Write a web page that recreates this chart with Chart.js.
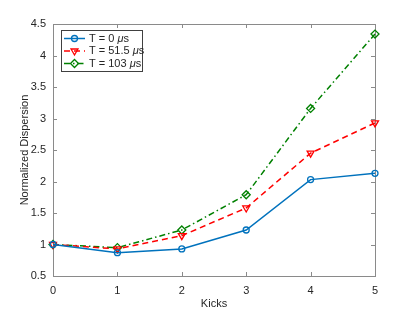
<!DOCTYPE html>
<html>
<head>
<meta charset="utf-8">
<script src="https://cdn.jsdelivr.net/npm/chart.js@4"></script>
<style>
  html, body { margin: 0; padding: 0; background: #fff; }
  #wrap { width: 415px; height: 312px; }
</style>
</head>
<body>
<div id="wrap"><canvas id="chart"></canvas></div>
<script>
const kicks = [0, 1, 2, 3, 4, 5];
const disp0 = [1.0, 0.87, 0.93, 1.23, 2.03, 2.13];
const disp51 = [1.0, 0.93, 1.14, 1.58, 2.45, 2.93];
const disp103 = [1.0, 0.95, 1.23, 1.79, 3.16, 4.34];
const seriesNames = ['T = 0 ', 'T = 51.5 ', 'T = 103 '];
const xTicks = [0, 1, 2, 3, 4, 5];
const yTicks = [0.5, 1, 1.5, 2, 2.5, 3, 3.5, 4, 4.5];

const textColor = '#262626';
const axisColor = '#8a8a8a';
const font = "'Liberation Sans', Arial, sans-serif";

Chart.defaults.font.family = font;
Chart.defaults.font.size = 11;
Chart.defaults.color = textColor;

// MATLAB-like box with inward ticks on all four sides
const boxPlugin = {
    id: 'boxPlugin',
    beforeDatasetsDraw(chart) {
        const { ctx, chartArea: a, scales } = chart;
        ctx.save();
        ctx.strokeStyle = axisColor;
        ctx.lineWidth = 1;
        ctx.strokeRect(a.left + 0.5, a.top + 0.5, a.right - a.left, a.bottom - a.top);
        ctx.beginPath();
        xTicks.forEach(v => {
            const x = Math.round(scales.x.getPixelForValue(v)) + 0.5;
            ctx.moveTo(x, a.bottom); ctx.lineTo(x, a.bottom - 4);
            ctx.moveTo(x, a.top); ctx.lineTo(x, a.top + 4);
        });
        yTicks.forEach(v => {
            const y = Math.round(scales.y.getPixelForValue(v)) + 0.5;
            ctx.moveTo(a.left, y); ctx.lineTo(a.left + 4, y);
            ctx.moveTo(a.right, y); ctx.lineTo(a.right - 4, y);
        });
        ctx.stroke();
        ctx.restore();
    }
};

// legend box in the upper left, with italic mu
const legendPlugin = {
    id: 'legendPlugin',
    afterDraw(chart) {
        const { ctx } = chart;
        const x0 = 61, y0 = 30, w = 81, h = 41;
        ctx.save();
        ctx.fillStyle = '#fff';
        ctx.fillRect(x0, y0, w, h);
        ctx.strokeStyle = '#404040';
        ctx.lineWidth = 1;
        ctx.strokeRect(x0 + 0.5, y0 + 0.5, w, h);
        chart.data.datasets.forEach((ds, i) => {
            const y = y0 + 8.5 + i * 12.5;
            ctx.strokeStyle = ds.borderColor;
            ctx.lineWidth = ds.borderWidth;
            ctx.setLineDash(ds.borderDash || []);
            ctx.beginPath();
            ctx.moveTo(x0 + 3, y); ctx.lineTo(x0 + 24, y);
            ctx.stroke();
            ctx.setLineDash([]);
            ctx.fillStyle = 'rgba(0,0,0,0)';
            ctx.lineWidth = ds.pointBorderWidth;
            Chart.helpers.drawPoint(ctx, {
                pointStyle: ds.pointStyle, radius: ds.pointRadius,
                rotation: ds.pointRotation || 0, borderWidth: ds.pointBorderWidth
            }, x0 + 13.5, y);
            ctx.fillStyle = textColor;
            ctx.textBaseline = 'middle';
            ctx.font = '11px ' + font;
            let tx = x0 + 28;
            ctx.fillText(seriesNames[i], tx, y);
            tx += ctx.measureText(seriesNames[i]).width;
            ctx.font = 'italic 11px ' + font;
            ctx.fillText('\u03bc', tx, y);
            tx += ctx.measureText('\u03bc').width;
            ctx.font = '11px ' + font;
            ctx.fillText('s', tx, y);
        });
        ctx.restore();
    }
};

function makeSet(label, data, color, dash, style, radius, rot) {
    return {
        label, data: kicks.map((k, i) => ({ x: k, y: data[i] })),
        borderColor: color, backgroundColor: 'rgba(0,0,0,0)', borderWidth: 1.5, borderDash: dash,
        pointStyle: style, pointRadius: radius, pointRotation: rot, pointBorderWidth: 1.3,
        pointBorderColor: color, pointBackgroundColor: 'rgba(0,0,0,0)', tension: 0, clip: false
    };
}

new Chart(document.getElementById('chart'), {
    type: 'line',
    data: {
        datasets: [
            makeSet('T = 0 μs', disp0, '#0072BD', [], 'circle', 3, 0),
            makeSet('T = 51.5 μs', disp51, '#FF0000', [6, 4], 'triangle', 4, 180),
            makeSet('T = 103 μs', disp103, '#008000', [6, 3, 1.5, 3], 'rectRot', 4, 0)
        ]
    },
    options: {
        responsive: true,
        maintainAspectRatio: false,
        animation: false,
        layout: { padding: { left: 18, top: 24, right: 40, bottom: 1 } },
        plugins: { legend: { display: false }, tooltip: { enabled: false } },
        scales: {
            x: {
                type: 'linear', min: 0, max: 5,
                afterBuildTicks: s => { s.ticks = xTicks.map(v => ({ value: v })); },
                afterFit: s => { s.height = 35; },
                grid: { display: false, drawTicks: false },
                border: { display: false },
                ticks: { padding: 8, color: textColor, callback: v => String(v) },
                title: { display: true, text: 'Kicks', color: textColor, padding: { top: 0, bottom: 0 } }
            },
            y: {
                type: 'linear', min: 0.5, max: 4.5,
                afterBuildTicks: s => { s.ticks = yTicks.map(v => ({ value: v })); },
                afterFit: s => { s.width = 35; },
                grid: { display: false, drawTicks: false },
                border: { display: false },
                ticks: { padding: 7, color: textColor, callback: v => String(v) },
                title: { display: true, text: 'Normalized Dispersion', color: textColor, padding: { top: 0, bottom: 0 } }
            }
        }
    },
    plugins: [boxPlugin, legendPlugin]
});
</script>
</body>
</html>
